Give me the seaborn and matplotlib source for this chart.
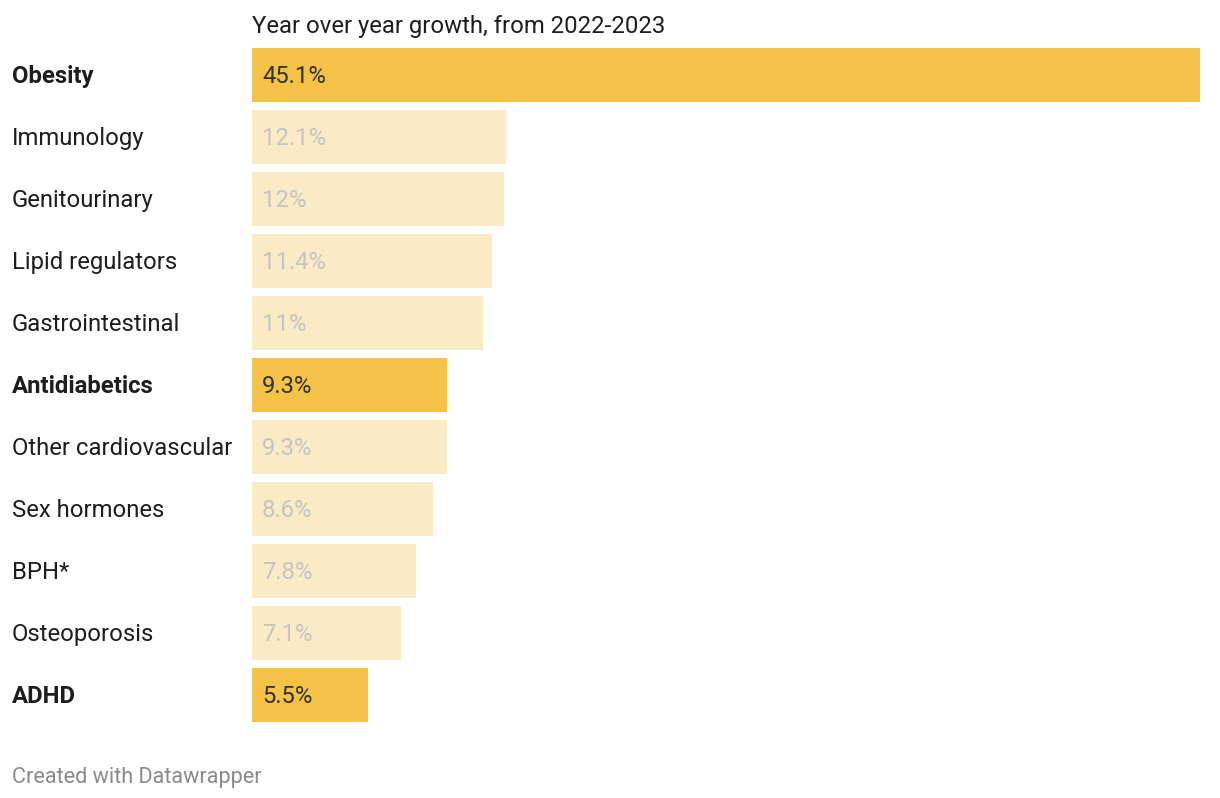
import numpy as np
import pandas as pd
import matplotlib
matplotlib.use('Agg')
import matplotlib.pyplot as plt
import matplotlib.transforms as mtransforms
import seaborn as sns

categories = ['Obesity', 'Immunology', 'Genitourinary', 'Lipid regulators',
              'Gastrointestinal', 'Antidiabetics', 'Other cardiovascular',
              'Sex hormones', 'BPH*', 'Osteoporosis', 'ADHD']
growth = [45.1, 12.1, 12, 11.4, 11, 9.3, 9.3, 8.6, 7.8, 7.1, 5.5]
value_labels = ['45.1%', '12.1%', '12%', '11.4%', '11%', '9.3%', '9.3%',
                '8.6%', '7.8%', '7.1%', '5.5%']
highlight = [True, False, False, False, False, True, False, False, False, False, True]

df = pd.DataFrame({'category': categories, 'growth': growth,
                   'group': ['hi' if h else 'lo' for h in highlight]})

sns.set_theme(style='white')
plt.rcParams['font.family'] = ['Roboto', 'DejaVu Sans']

dark = '#f3c247'
light = '#fbeac6'

fig = plt.figure(figsize=(12.2, 7.98), dpi=100)
ax = fig.add_axes([252/1220, 1 - 722/798, 948/1220, 674/798])

sns.barplot(data=df, x='growth', y='category', hue='group',
            palette={'hi': dark, 'lo': light}, dodge=False, legend=False,
            width=54/62, saturation=1, linewidth=0, ax=ax)

ax.set_xlim(0, max(growth))
ax.set_ylim(len(categories) - 0.5 - (1 - 54/62)/2, -0.5 + (1 - 54/62)/2)
ax.set_xlabel('')
ax.set_ylabel('')
ax.set_xticks([])
ax.set_yticks([])
for s in ax.spines.values():
    s.set_visible(False)

# labels sit a touch lower than the exact bar centre
off = 0.03
trans = mtransforms.blended_transform_factory(fig.transFigure, ax.transData)
for i, (cat, val, lab, h) in enumerate(zip(categories, growth, value_labels, highlight)):
    ax.text(12/1220, i + off, cat, transform=trans, ha='left', va='center',
            fontsize=17.2, color='#1d1d1d', fontweight='bold' if h else 'normal')
    ax.text(max(growth) * 10/948, i + off, lab, ha='left', va='center',
            fontsize=17.2, color='#333333' if h else '#c4c4c4')

fig.text(252/1220, 1 - 26/798, 'Year over year growth, from 2022-2023',
         ha='left', va='center', fontsize=17.2, color='#1d1d1d')
fig.text(12/1220, 1 - 777/798, 'Created with Datawrapper',
         ha='left', va='center', fontsize=15.6, color='#8a8a8a')

fig.savefig('out.png', dpi=100, facecolor='white')
